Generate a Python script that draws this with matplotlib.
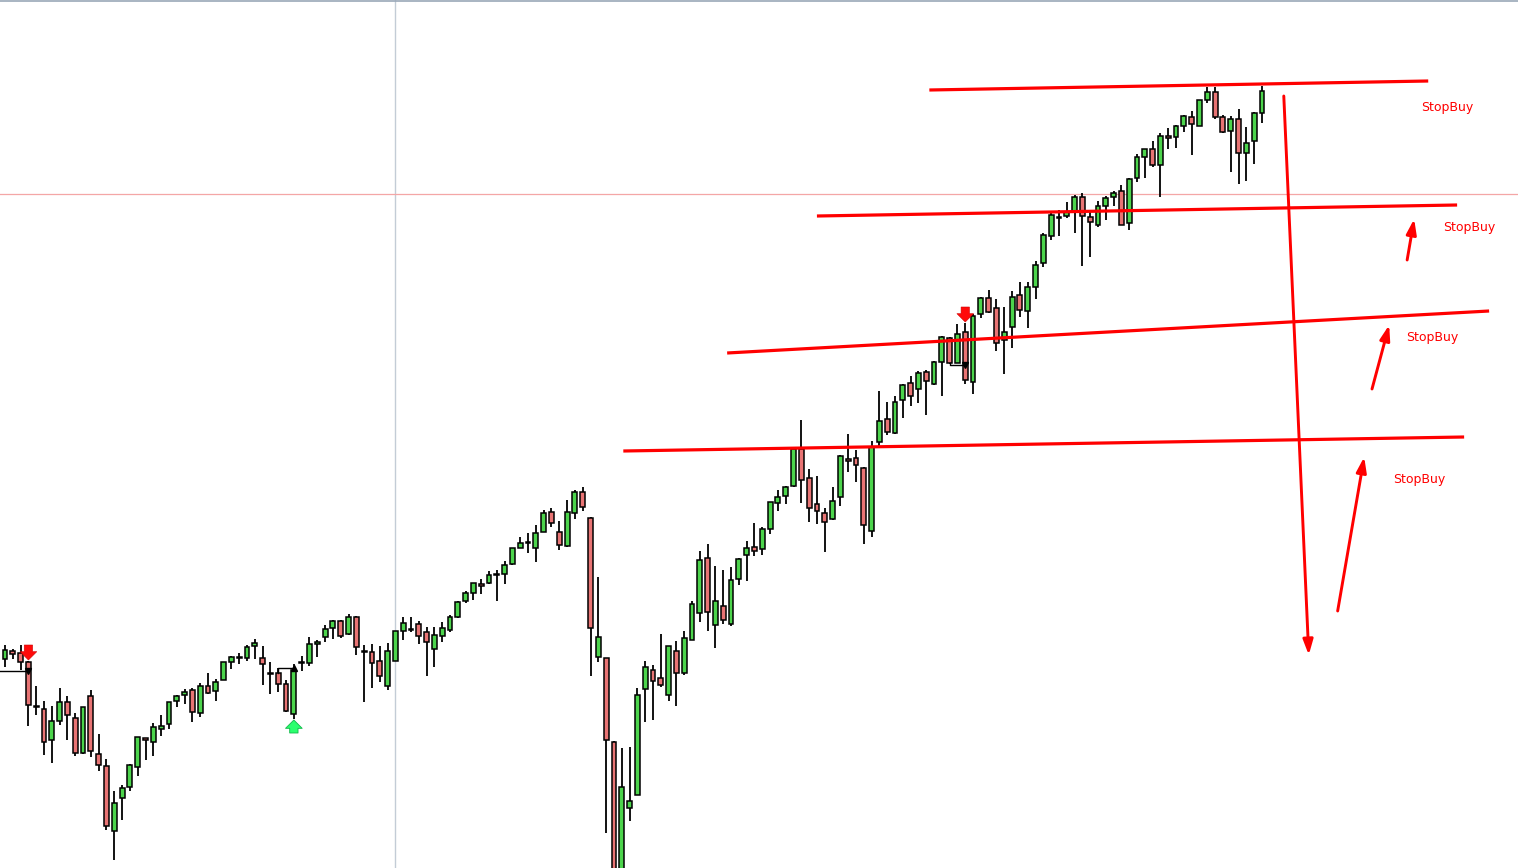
import numpy as np
import matplotlib
matplotlib.use("Agg")
import matplotlib.pyplot as plt
from matplotlib.lines import Line2D

# OHLC (price units = points above the bottom edge)
Opens = [209, 217, 215, 206, 162, 159, 128, 147, 166, 150, 115, 172, 114, 102, 37, 70, 81, 101, 130, 126,
         139, 144, 167, 173, 178, 155, 182, 177, 188, 206, 210.5, 210, 222, 210, 195, 195, 184, 154, 206, 205,
         224, 231, 240, 247, 234, 251, 217, 216, 207, 182, 207, 237, 238.3, 244, 236, 219, 232, 238, 251, 267,
         275, 284, 285, 294, 294, 304, 320, 326, 320, 336, 356, 336, 322, 355, 376, 350, 211, 210, 126, -15,
         60, 73, 179, 198, 190, 173, 217, 195, 228, 255, 310, 243, 262, 244, 289, 313, 321, 319, 339, 365,
         372, 382, 419, 390, 364, 355, 349, 371, 409, 410, 400, 337, 426, 449, 435, 468, 485, 479, 496, 484,
         506, 530, 505, 536, 486, 554, 570, 560, 528, 541, 573, 557, 581, 605, 632, 650.3, 652, 657, 671, 651,
         643, 662, 671, 677, 645, 690, 711, 719, 703, 732, 731, 742, 751, 742, 768, 776, 751, 737, 749, 715,
         727, 755]
Highs = [223, 219, 223, 207, 182, 167, 162, 180, 172, 155, 161, 178, 134, 109, 77, 83, 104, 131, 130, 145,
         153, 166, 173, 179, 180, 185, 195, 189, 206, 212, 215, 223, 229, 222, 206, 200, 188, 204, 212, 231,
         228, 243, 248, 248, 254, 252, 223, 224, 222, 225, 237, 251, 251, 247, 241, 241, 246, 253, 267, 277,
         285, 289, 297, 298, 307, 320, 331, 335, 343, 358, 360, 347, 368, 378, 381, 351, 291, 210, 127, 120,
         121, 180, 207, 203, 234, 222, 227, 237, 267, 317, 324, 302, 298, 301, 310, 327, 345, 341, 366, 378,
         382, 420, 448, 399, 392, 360, 381, 413, 434, 418, 401, 427, 477, 466, 472, 484, 492, 497, 498, 507,
         532, 531, 544, 545, 554, 571, 578, 569, 561, 577, 586, 586, 607, 635, 656, 658, 666, 673, 675, 656,
         667, 672, 677, 683, 690, 714, 719, 727, 735, 740, 743, 753, 757, 768, 781, 781, 753, 752, 759, 741,
         756, 782]
Lows = [201, 209, 198, 142, 153, 113, 105, 143, 128, 112, 114, 111, 97, 38, 8, 48, 77, 92, 108, 112,
        132, 139, 161, 164, 146, 151, 174, 167, 188, 199, 204, 207, 209, 183, 174, 176, 156, 149, 197, 202,
        211, 226, 229, 230, 233, 213, 166, 180, 186, 178, 207, 228, 236, 224, 192, 201, 226, 236, 250, 265,
        268, 274, 284, 267, 284, 303, 320, 315, 306, 336, 341, 318, 321, 349, 357, 192, 206, 35, -30, -25,
        47, 73, 146, 148, 181, 167, 162, 193, 228, 246, 237, 220, 244, 242, 283, 287, 312, 313, 334, 357,
        364, 381, 365, 346, 344, 316, 348, 362, 396, 386, 324, 331, 421, 433, 434, 450, 462, 465, 453, 483,
        472, 504, 505, 484, 474, 550, 555, 517, 494, 520, 551, 540, 569, 601, 628, 632, 650, 635, 602, 611,
        641, 648, 662, 643, 638, 686, 690, 701, 671, 719, 720, 736, 713, 742, 765, 749, 735, 696, 684, 687,
        704, 745]
Closes = [218, 214, 206, 163, 161.5, 126, 147, 166, 153, 115, 161, 117, 103, 42, 65, 80, 103, 131, 128, 141,
          142, 166, 172, 176, 156, 182, 175, 186, 206, 211, 211, 221, 225, 204, 194.5, 184, 157, 198, 205.5, 224,
          226, 239, 247, 232, 251, 221, 216.5, 205, 192, 217, 237, 245, 238, 232, 226, 233, 240, 251, 266, 275,
          285, 282, 293, 293.5, 303, 320, 325, 325.5, 335, 355, 345, 323, 356, 376, 361, 240, 231, 128, -20, 81,
          67, 173, 201, 187, 183, 222, 195, 230, 264, 308, 256, 267, 248, 288, 309, 320, 317, 339, 366, 371,
          381, 419, 388, 360, 357, 346, 367, 412, 407, 403, 343, 421, 447, 436, 466, 483, 472, 495, 487, 506,
          531, 505, 534, 488, 552, 570, 556, 525, 536, 571, 558, 581, 603, 633, 653, 650, 656, 671, 652, 646,
          662, 670, 675, 643, 689, 711, 719, 703, 732, 730, 742, 752, 744, 768, 776, 751, 736, 749, 715, 725,
          755, 777]

# Drawn levels: (bar index, price) pairs
LevelLines = [((118.4, 778), (182.3, 787)),
              ((104.0, 652), (186.0, 663)),
              ((92.5, 515), (190.1, 557)),
              ((79.2, 417), (186.9, 431))]
DownArrow = ((163.8, 772), (167.0, 213))
UpArrows = [((179.6, 608), (180.5, 649)),
            ((175.1, 479), (177.3, 543)),
            ((170.7, 257), (174.1, 411))]
LabelText = "StopBuy"
LabelPos = [(184.7, 760), (187.5, 641), (182.8, 530), (181.1, 388)]

# Signal markers on bars
SellBars = [3, 123]
BuyBars = [37]

BullColor = "#4cd44c"
BearColor = "#e87474"

fig = plt.figure(figsize=(15.18, 8.68), dpi=100)
ax = fig.add_axes([0, 0, 1, 1])
ax.set_xlim(-0.64, 193.8)
ax.set_ylim(0, 868)
ax.axis("off")

O = np.array(Opens, dtype=float)
H = np.array(Highs, dtype=float)
L = np.array(Lows, dtype=float)
C = np.array(Closes, dtype=float)
X = np.arange(len(O))

# crosshair
ax.axvline(50, color="#c3ccd6", lw=1, zorder=0)
ax.axhline(674, color="#f4a6a6", lw=0.9, zorder=0)

# candles
ax.vlines(X, L, H, color="black", lw=1.3, zorder=2)
Bull = C >= O
BodyH = np.maximum(np.abs(C - O), 0.6)
BodyB = np.minimum(O, C)
ax.bar(X, BodyH, bottom=BodyB, width=0.62, color=np.where(Bull, BullColor, BearColor),
       edgecolor="black", linewidth=1.1, zorder=3)

# red levels
for (x0, y0), (x1, y1) in LevelLines:
    ax.plot([x0, x1], [y0, y1], color="red", lw=2.3, solid_capstyle="butt", zorder=4)

ax.annotate("", xy=DownArrow[1], xytext=DownArrow[0],
            arrowprops=dict(arrowstyle="-|>,head_length=0.9,head_width=0.3", color="red", lw=2.1,
                            shrinkA=0, shrinkB=0), zorder=4)
for start, tip in UpArrows:
    ax.annotate("", xy=tip, xytext=start,
                arrowprops=dict(arrowstyle="-|>,head_length=0.9,head_width=0.3", color="red", lw=2.1,
                                shrinkA=0, shrinkB=0), zorder=4)

for x, y in LabelPos:
    ax.text(x, y, LabelText, color="red", fontsize=9, ha="center", va="center",
            family="DejaVu Sans", zorder=5)

# signal arrows
SignalStyle = "simple,head_length=0.4,head_width=0.8,tail_width=0.4"
for i in SellBars:
    ax.annotate("", xy=(i, H[i] + 1), xytext=(i, H[i] + 16),
                arrowprops=dict(arrowstyle=SignalStyle, fc="#ff0a0a", ec="#d00000", lw=0.4,
                                mutation_scale=15, shrinkA=0, shrinkB=0), zorder=6)
for i in BuyBars:
    ax.annotate("", xy=(i, L[i] - 1), xytext=(i, L[i] - 14),
                arrowprops=dict(arrowstyle=SignalStyle, fc="#2bff6e", ec="#12b84a", lw=0.6,
                                mutation_scale=15, shrinkA=0, shrinkB=0), zorder=6)

# entry brackets
ax.plot([-0.64, 3], [197, 197], color="black", lw=1, zorder=5)
ax.plot([3], [197], marker="v", color="black", ms=5, zorder=6)
ax.plot([35, 35, 37], [195, 200, 200], color="black", lw=1, zorder=5)
ax.plot([37], [200], marker="^", color="black", ms=5, zorder=6)
ax.plot([121, 121, 123], [505, 503, 503], color="black", lw=1, zorder=5)
ax.plot([123], [503], marker="v", color="black", ms=5, zorder=6)

# top border
fig.add_artist(Line2D([0, 1], [0.999, 0.999], transform=fig.transFigure, color="#9aa8b8", lw=1.2))

fig.savefig("out.png", dpi=100, facecolor="white")
